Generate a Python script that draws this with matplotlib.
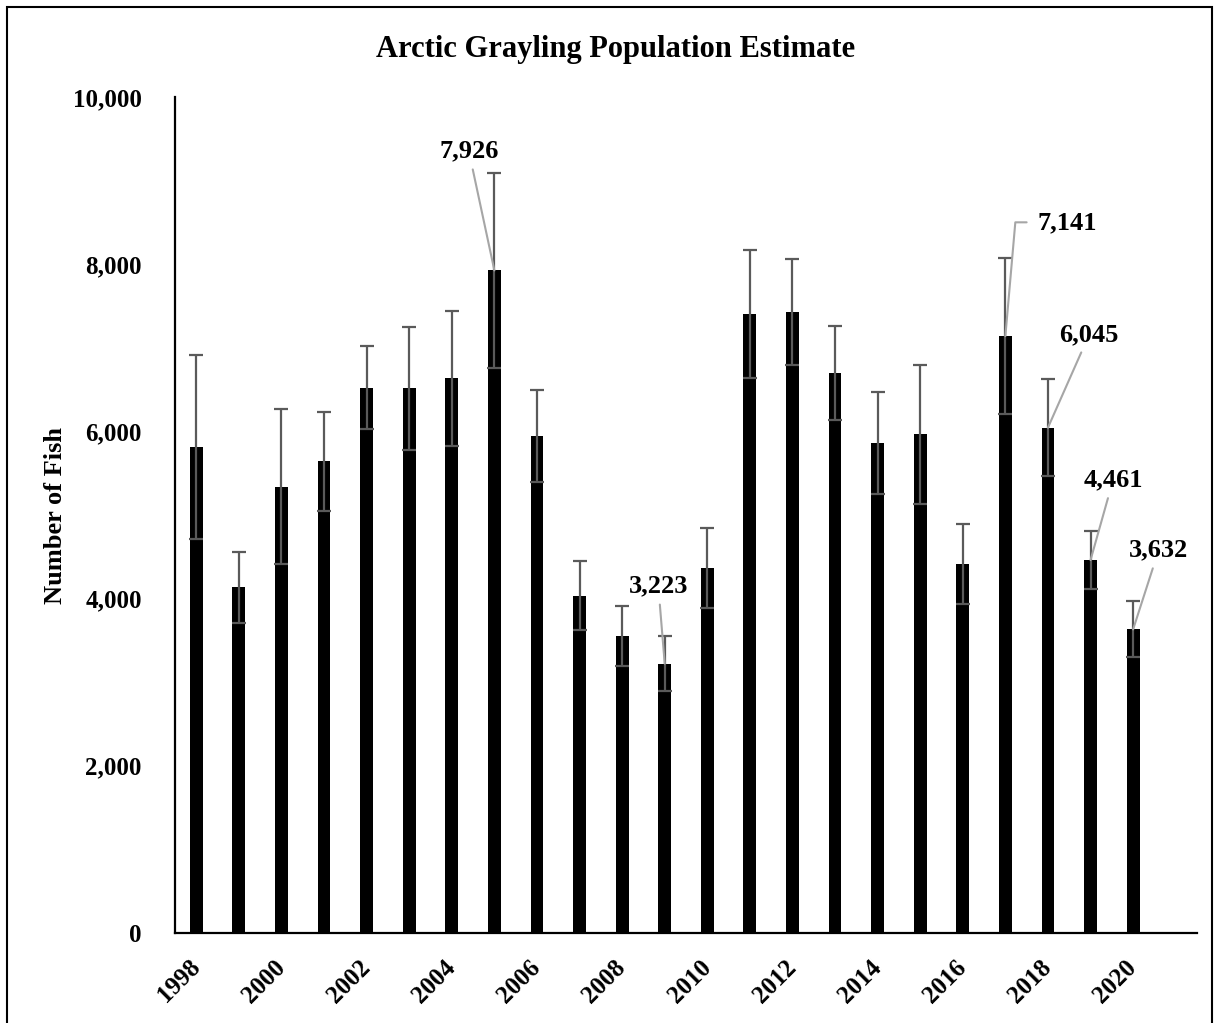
import numpy as np
import matplotlib.pyplot as plt
from matplotlib.patches import Rectangle
from matplotlib.ticker import FuncFormatter

plt.rcParams['font.family'] = ['Liberation Serif', 'DejaVu Serif']
plt.rcParams['font.weight'] = 'bold'

years = list(range(1998, 2021))
estimate = [5815, 4133, 5340, 5643, 6523, 6515, 6634, 7926, 5947, 4037, 3553, 3223,
            4361, 7402, 7430, 6695, 5859, 5963, 4412, 7141, 6045, 4461, 3632]
error = [1100, 430, 930, 590, 500, 735, 805, 1170, 550, 410, 355, 330,
         478, 765, 630, 560, 610, 830, 480, 935, 580, 350, 335]

# labelled years and where their labels sit (bar index, y)
label_years = [2005, 2009, 2017, 2018, 2019, 2020]
label_pos = [(6.4, 9353), (10.85, 4149), (19.76, 8501), (20.97, 7161), (21.53, 5420), (22.6, 4580)]

fig = plt.figure(figsize=(12.18, 10.23), dpi=100)
ax = fig.add_axes([175 / 1218, 1 - 933 / 1023, 1022 / 1218, 836 / 1023])

x = np.arange(len(years))
ax.bar(x, estimate, width=0.3, color='black', zorder=2)
ax.errorbar(x, estimate, yerr=error, fmt='none', ecolor='#5a5a5a', elinewidth=1.6,
            capsize=5, capthick=1.6, zorder=3)

for yr, (tx, ty) in zip(label_years, label_pos):
    i = years.index(yr)
    txt = f'{estimate[i]:,}'
    if yr == 2017:
        ax.annotate(txt, xy=(i, estimate[i]), xytext=(tx, ty), ha='left', va='center',
                    fontsize=19, fontweight='bold',
                    arrowprops=dict(arrowstyle='-', color='#a6a6a6', lw=1.5,
                                    shrinkA=6, shrinkB=0, relpos=(0, 0.5),
                                    connectionstyle='angle,angleA=0,angleB=85,rad=0'))
    else:
        ax.annotate(txt, xy=(i, estimate[i]), xytext=(tx, ty), ha='center', va='center',
                    fontsize=19, fontweight='bold',
                    arrowprops=dict(arrowstyle='-', color='#a6a6a6', lw=1.5,
                                    shrinkA=3, shrinkB=0))

ax.set_xlim(-0.5, 23.5)
ax.set_ylim(0, 10000)
ax.set_yticks(range(0, 10001, 2000))
ax.yaxis.set_major_formatter(FuncFormatter(lambda v, p: f'{int(v):,}'))
ax.set_xticks(x[::2])
ax.set_xticklabels([str(y) for y in years[::2]], rotation=45, ha='right',
                   va='center', rotation_mode='anchor')
ax.tick_params(axis='both', length=0, labelsize=18)
ax.tick_params(axis='y', pad=24)
ax.tick_params(axis='x', pad=22)
for lab in ax.get_xticklabels() + ax.get_yticklabels():
    lab.set_fontweight('bold')

for s in ['top', 'right']:
    ax.spines[s].set_visible(False)
for s in ['left', 'bottom']:
    ax.spines[s].set_linewidth(1.6)
    ax.spines[s].set_color('black')

fig.text(0.505, 1 - 50 / 1023, 'Arctic Grayling Population Estimate', ha='center',
         va='center', fontsize=22, fontweight='bold')
fig.text(56 / 1218, 1 - 515 / 1023, 'Number of Fish', rotation=90, ha='center',
         va='center', fontsize=19, fontweight='bold')

fig.add_artist(Rectangle((7 / 1218, -0.01), 1205 / 1218, 1.01 - 7 / 1023,
                         transform=fig.transFigure, fill=False, edgecolor='black', lw=1.5))

fig.savefig('out.png', dpi=100)
